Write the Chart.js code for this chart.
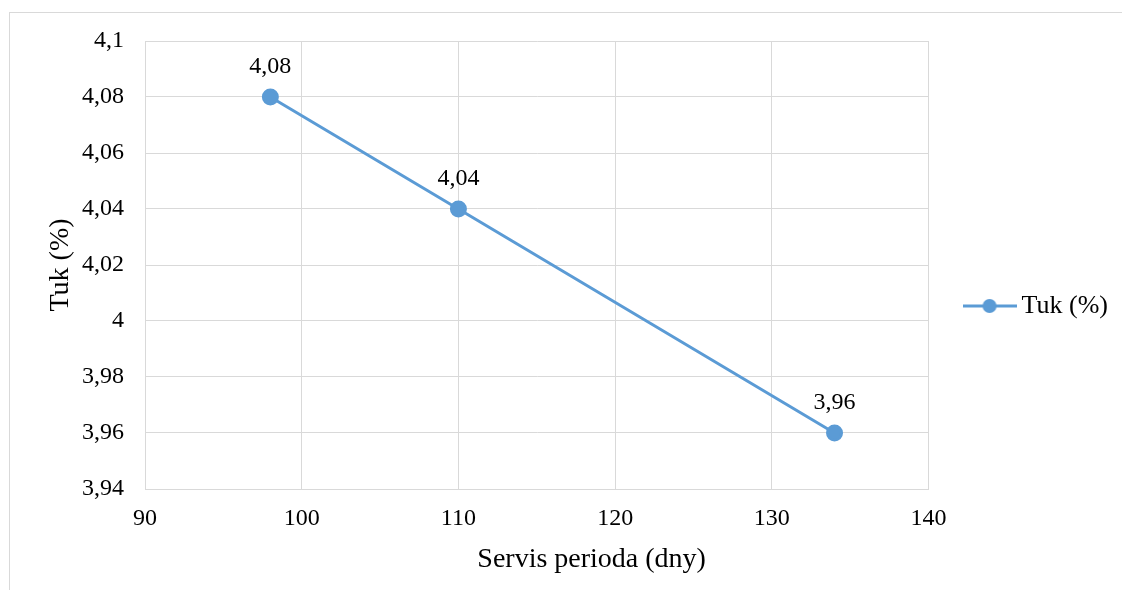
<!DOCTYPE html>
<html>
<head>
<meta charset="utf-8">
<script src="https://cdn.jsdelivr.net/npm/chart.js@4.4.1/dist/chart.umd.min.js"></script>
<style>
    body { margin: 0; background: #fff; overflow: hidden; }
    #box {
        position: absolute; left: 9px; top: 12px;
        width: 1130px; height: 588px;
        border: 1px solid #d9d9d9;
    }
</style>
</head>
<body>
<div id="box"><canvas id="chart-tuk" width="1130" height="588"></canvas></div>
<script>
// Data - Tuk (%) vs servis perioda (dny)
const servisPerioda = [98, 110, 134];
const tukHodnoty = [4.08, 4.04, 3.96];
const nazevSerie = 'Tuk (%)';
const xTicks = [90, 100, 110, 120, 130, 140];
const yTicks = [3.94, 3.96, 3.98, 4, 4.02, 4.04, 4.06, 4.08, 4.1];

const modra = '#5B9BD5';
const mrizka = '#d9d9d9';
const pismo = 'Liberation Serif';

function carka(v) {
    return parseFloat(Number(v).toFixed(2)).toString().replace('.', ',');
}

// Legend marker: line with a dot
function legendMarker() {
    const c = document.createElement('canvas');
    c.width = 54;
    c.height = 16;
    const g = c.getContext('2d');
    g.strokeStyle = modra;
    g.lineWidth = 3;
    g.beginPath();
    g.moveTo(0, 8);
    g.lineTo(54, 8);
    g.stroke();
    g.fillStyle = modra;
    g.beginPath();
    g.arc(27, 8, 7, 0, Math.PI * 2);
    g.fill();
    return c;
}

// Value labels above points + x axis title (moved right like in the original)
const popisky = {
    id: 'popisky',
    afterDatasetsDraw(chart) {
        const ctx = chart.ctx;
        const meta = chart.getDatasetMeta(0);
        ctx.save();
        ctx.font = '24px "' + pismo + '"';
        ctx.fillStyle = '#000';
        ctx.textAlign = 'center';
        ctx.textBaseline = 'middle';
        meta.data.forEach((pt, i) => {
            ctx.fillText(carka(tukHodnoty[i]), pt.x, pt.y - 30);
        });

        const a = chart.chartArea;
        ctx.font = '28px "' + pismo + '"';
        ctx.textBaseline = 'alphabetic';
        ctx.fillText('Servis perioda (dny)', a.left + (a.right - a.left) * 0.57, a.bottom + 78);
        ctx.restore();
    }
};

const marker = legendMarker();

new Chart(document.getElementById('chart-tuk'), {
    type: 'scatter',
    data: {
        datasets: [{
            label: nazevSerie,
            data: servisPerioda.map((x, i) => ({ x: x, y: tukHodnoty[i] })),
            showLine: true,
            borderColor: modra,
            backgroundColor: modra,
            borderWidth: 3,
            pointRadius: 7,
            pointHoverRadius: 7,
            pointStyle: 'circle'
        }]
    },
    options: {
        responsive: false,
        animation: false,
        layout: {
            padding: { top: 28, right: 22, bottom: 30, left: 0 }
        },
        plugins: {
            tooltip: { enabled: false },
            legend: {
                position: 'right',
                labels: {
                    usePointStyle: true,
                    pointStyleWidth: 38,
                    padding: 42,
                    color: '#000',
                    font: { family: pismo, size: 26 },
                    generateLabels: () => [{
                        text: nazevSerie,
                        pointStyle: marker,
                        fillStyle: modra,
                        strokeStyle: modra,
                        lineWidth: 0,
                        datasetIndex: 0
                    }]
                }
            }
        },
        scales: {
            x: {
                type: 'linear',
                min: 90,
                max: 140,
                afterBuildTicks: s => { s.ticks = xTicks.map(v => ({ value: v })); },
                afterFit: s => { s.height = 82; },
                grid: { color: mrizka, lineWidth: 1, drawTicks: false },
                border: { color: mrizka, width: 1 },
                ticks: {
                    padding: 15,
                    color: '#000',
                    font: { family: pismo, size: 24 },
                    callback: v => carka(v)
                },
                title: { display: false }
            },
            y: {
                min: 3.94,
                max: 4.1,
                afterBuildTicks: s => { s.ticks = yTicks.map(v => ({ value: v })); },
                afterFit: s => {
                    s.width = 135;
                    s.paddingTop = 0;
                    s.paddingBottom = 0;
                },
                grid: { color: mrizka, lineWidth: 1, drawTicks: false },
                border: { color: mrizka, width: 1 },
                ticks: {
                    padding: 21,
                    color: '#000',
                    font: { family: pismo, size: 24 },
                    callback: v => carka(v)
                },
                title: {
                    display: true,
                    text: 'Tuk (%)',
                    color: '#000',
                    font: { family: pismo, size: 28 },
                    padding: { top: 34, bottom: 0 }
                }
            }
        }
    },
    plugins: [popisky]
});
</script>
</body>
</html>
